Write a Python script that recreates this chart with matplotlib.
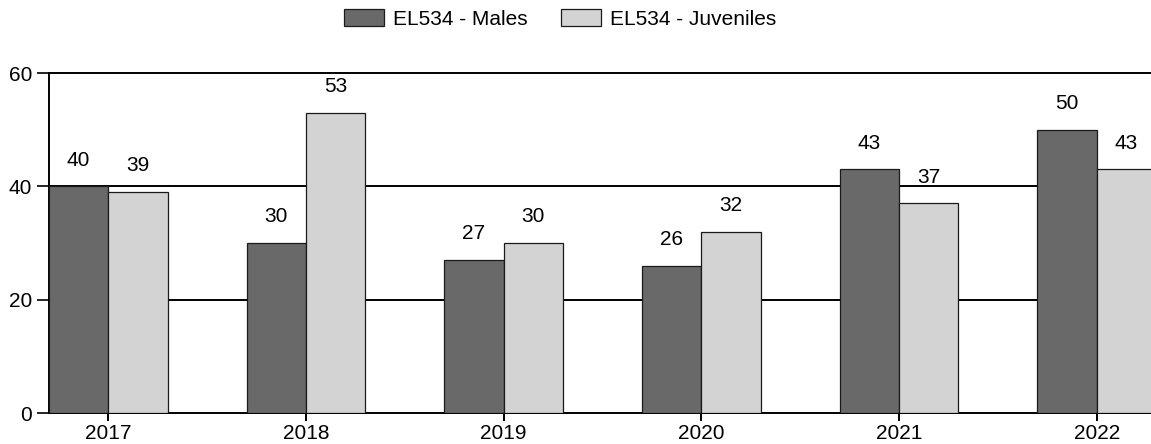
import matplotlib
matplotlib.use("Agg")
import matplotlib.pyplot as plt
import numpy as np

years = ["2017", "2018", "2019", "2020", "2021", "2022"]
males = [40, 30, 27, 26, 43, 50]
juveniles = [39, 53, 30, 32, 37, 43]
series_names = ["EL534 - Males", "EL534 - Juveniles"]
yticks = [0, 20, 40, 60]

plt.rcParams['font.family'] = ['Liberation Sans', 'DejaVu Sans']
FS = 15

fig = plt.figure(figsize=(11.51, 4.44), dpi=100)
ax = fig.add_axes([49/1151, 31/444, 1107/1151, 340/444])

x = np.arange(len(years))
w = 0.3
b1 = ax.bar(x - w/2, males, w, color='#696969', edgecolor='#1a1a1a', linewidth=0.9,
            label=series_names[0], zorder=3)
b2 = ax.bar(x + w/2, juveniles, w, color='#d3d3d3', edgecolor='#1a1a1a', linewidth=0.9,
            label=series_names[1], zorder=3)

for bars, vals in ((b1, males), (b2, juveniles)):
    for r, v in zip(bars, vals):
        ax.annotate(str(v), (r.get_x() + r.get_width()/2, v), xytext=(0, 15),
                    textcoords='offset points', ha='center', va='baseline', fontsize=FS)

ax.set_xlim(-w, len(years) - 1 + w)
ax.set_ylim(0, 60)
ax.set_yticks(yticks)
ax.set_xticks(x)
ax.set_xticklabels(years)
for yv in yticks[1:]:
    ax.axhline(yv, color='black', lw=1.4, zorder=1, clip_on=False)

for s in ['top', 'right']:
    ax.spines[s].set_visible(False)
ax.spines['left'].set_linewidth(1.4)
ax.spines['bottom'].set_linewidth(1.4)
ax.tick_params(axis='y', length=8.5, width=1.2, labelsize=FS, pad=3.5)
ax.tick_params(axis='x', length=5.5, width=1.4, labelsize=FS, pad=2.5)

fig.legend(handles=[b1, b2], labels=series_names, loc='center', bbox_to_anchor=(560/1151, 1 - 19/444),
           ncol=2, frameon=False, fontsize=FS, handlelength=1.92, handleheight=0.9,
           columnspacing=1.6, handletextpad=0.45)

fig.savefig("out.png", dpi=100)
